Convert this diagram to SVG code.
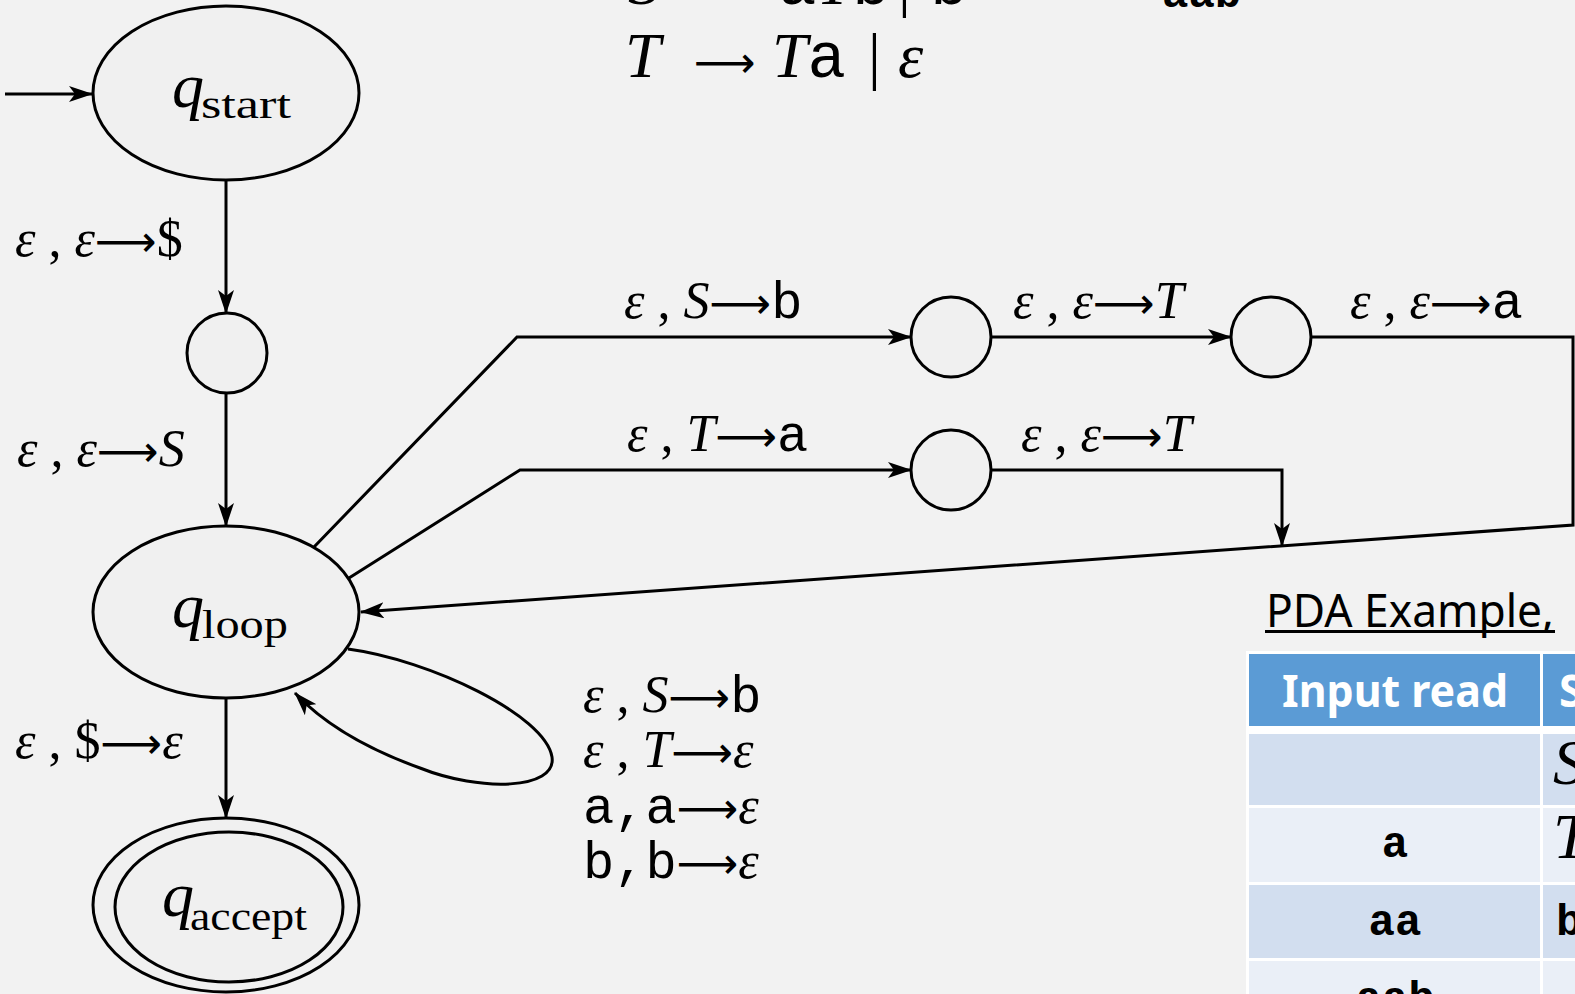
<svg xmlns="http://www.w3.org/2000/svg" width="1575" height="994" viewBox="0 0 1575 994">
<defs>
<style>
.bg{fill:#f2f2f2}
.st{fill:#f0f0f0;stroke:#000;stroke-width:3}
.ed{fill:none;stroke:#000;stroke-width:3}
.lbl{font-family:"Liberation Serif","DejaVu Serif",serif;font-size:52px;fill:#000}
.it{font-style:italic}
.tt{font-family:"Liberation Mono","DejaVu Sans Mono",monospace}
.ar{font-family:"DejaVu Sans",sans-serif;font-size:43px}
.q{font-family:"Liberation Serif",serif;font-style:italic;font-size:64px}
.sub{font-family:"Liberation Serif",serif;font-size:40px}
.gr{font-family:"Liberation Serif",serif;font-size:64px;fill:#000}
.hd{font-family:"Noto Sans","Open Sans",sans-serif;font-weight:bold;font-size:44px;fill:#fff}
.ttb{font-family:"Liberation Mono","DejaVu Sans Mono",monospace;font-weight:bold;font-size:44px;fill:#000}
</style>
<marker id="ah" viewBox="0 0 24 16" refX="23" refY="8" markerWidth="24" markerHeight="16" markerUnits="userSpaceOnUse" orient="auto">
<path d="M0,0 L24,8 L0,16 L6,8 z" fill="#000"/>
</marker>
</defs>
<rect class="bg" x="0" y="0" width="1575" height="994"/>

<g id="grammar">
<text class="gr" x="628" y="4"><tspan class="it">S</tspan><tspan x="694" class="ar" font-size="42">⟶</tspan><tspan x="778" class="tt">a</tspan><tspan class="it">T</tspan><tspan class="tt">b</tspan><tspan x="898">|</tspan><tspan x="930" class="tt">b</tspan></text>
<text class="gr" x="625" y="77"><tspan class="it">T</tspan><tspan x="694" class="ar" font-size="42">⟶</tspan><tspan x="772" class="it">T</tspan><tspan class="tt">a</tspan><tspan x="868">|</tspan><tspan x="898" class="it">ε</tspan></text>
<text class="ttb" x="1162" y="7" font-size="50">aab</text>
</g>

<g id="connectors">
<path class="ed" d="M5,94 L92,94" marker-end="url(#ah)"/>
<path class="ed" d="M226,180 L226,313" marker-end="url(#ah)"/>
<path class="ed" d="M226,393 L226,526" marker-end="url(#ah)"/>
<path class="ed" d="M226,698 L226,818" marker-end="url(#ah)"/>
<path class="ed" d="M314,547 L517,337 L911,337" marker-end="url(#ah)"/>
<path class="ed" d="M991,337 L1231,337" marker-end="url(#ah)"/>
<path class="ed" d="M1311,337 L1573,337 L1573,525 L361,612" marker-end="url(#ah)"/>
<path class="ed" d="M349,578 L520,470 L911,470" marker-end="url(#ah)"/>
<path class="ed" d="M991,470 L1282,470 L1282,546" marker-end="url(#ah)"/>
<path class="ed" d="M348,649 C430,660 545,715 552,757 C557,790 480,792 420,768 C370,750 325,725 295,693" marker-end="url(#ah)"/>
</g>

<g id="edge-labels">
<text class="lbl" x="15" y="256"><tspan class="it">ε</tspan> , <tspan class="it">ε</tspan><tspan class="ar">⟶</tspan>$</text>
<text class="lbl" x="17" y="466"><tspan class="it">ε</tspan> , <tspan class="it">ε</tspan><tspan class="ar">⟶</tspan><tspan class="it">S</tspan></text>
<text class="lbl" x="15" y="758"><tspan class="it">ε</tspan> , $<tspan class="ar">⟶</tspan><tspan class="it">ε</tspan></text>
<text class="lbl" x="624" y="318"><tspan class="it">ε</tspan> , <tspan class="it">S</tspan><tspan class="ar">⟶</tspan><tspan class="tt">b</tspan></text>
<text class="lbl" x="627" y="451"><tspan class="it">ε</tspan> , <tspan class="it">T</tspan><tspan class="ar">⟶</tspan><tspan class="tt">a</tspan></text>
<text class="lbl" x="1013" y="318"><tspan class="it">ε</tspan> , <tspan class="it">ε</tspan><tspan class="ar">⟶</tspan><tspan class="it">T</tspan></text>
<text class="lbl" x="1350" y="318"><tspan class="it">ε</tspan> , <tspan class="it">ε</tspan><tspan class="ar">⟶</tspan><tspan class="tt">a</tspan></text>
<text class="lbl" x="1021" y="451"><tspan class="it">ε</tspan> , <tspan class="it">ε</tspan><tspan class="ar">⟶</tspan><tspan class="it">T</tspan></text>
<text class="lbl" x="583" y="712"><tspan class="it">ε</tspan> , <tspan class="it">S</tspan><tspan class="ar">⟶</tspan><tspan class="tt">b</tspan></text>
<text class="lbl" x="583" y="767"><tspan class="it">ε</tspan> , <tspan class="it">T</tspan><tspan class="ar">⟶</tspan><tspan class="it">ε</tspan></text>
<text class="lbl" x="583" y="823"><tspan class="tt">a,a</tspan><tspan class="ar">⟶</tspan><tspan class="it">ε</tspan></text>
<text class="lbl" x="583" y="878"><tspan class="tt">b,b</tspan><tspan class="ar">⟶</tspan><tspan class="it">ε</tspan></text>
</g>

<g id="q_start">
<ellipse class="st" cx="226" cy="93" rx="133" ry="87"/>
<text x="172" y="107"><tspan class="q">q</tspan><tspan class="sub" x="201" y="118" textLength="90" lengthAdjust="spacingAndGlyphs">start</tspan></text>
</g>
<g id="c0"><circle class="st" cx="227" cy="353" r="40"/></g>
<g id="q_loop">
<ellipse class="st" cx="226" cy="612" rx="133" ry="86"/>
<text x="172" y="627"><tspan class="q">q</tspan><tspan class="sub" x="202" y="638" textLength="86" lengthAdjust="spacingAndGlyphs">loop</tspan></text>
</g>
<g id="q_accept">
<ellipse class="st" cx="226" cy="905" rx="133" ry="87"/>
<ellipse class="st" cx="229" cy="907" rx="114" ry="75"/>
<text x="162" y="916"><tspan class="q">q</tspan><tspan class="sub" x="190" y="930" textLength="117" lengthAdjust="spacingAndGlyphs">accept</tspan></text>
</g>
<g id="c1"><circle class="st" cx="951" cy="337" r="40"/></g>
<g id="c2"><circle class="st" cx="1271" cy="337" r="40"/></g>
<g id="c3"><circle class="st" cx="951" cy="470" r="40"/></g>

<g id="table">
<text x="1266" y="627" font-family="Noto Sans, Open Sans, sans-serif" font-size="46" textLength="288" lengthAdjust="spacingAndGlyphs" fill="#000">PDA Example,</text>
<rect x="1265" y="630" width="290" height="3" fill="#000"/>
<rect x="1246" y="651" width="330" height="345" fill="#ffffff"/>
<rect x="1249" y="654" width="291" height="72" fill="#5b9bd5"/>
<rect x="1543" y="654" width="40" height="72" fill="#5b9bd5"/>
<rect x="1249" y="734" width="291" height="71" fill="#d2deef"/>
<rect x="1543" y="734" width="40" height="71" fill="#d2deef"/>
<rect x="1249" y="808" width="291" height="74" fill="#eaeff7"/>
<rect x="1543" y="808" width="40" height="74" fill="#eaeff7"/>
<rect x="1249" y="885" width="291" height="73" fill="#d2deef"/>
<rect x="1543" y="885" width="40" height="73" fill="#d2deef"/>
<rect x="1249" y="961" width="291" height="40" fill="#eaeff7"/>
<rect x="1543" y="961" width="40" height="40" fill="#eaeff7"/>
<text class="hd" x="1395" y="707" text-anchor="middle" textLength="226" lengthAdjust="spacingAndGlyphs">Input read</text>
<text class="hd" x="1559" y="707">S</text>
<text class="gr it" x="1553" y="784" font-size="56">S</text>
<text class="ttb" x="1395" y="857" text-anchor="middle">a</text>
<text class="gr it" x="1553" y="858" font-size="56">T</text>
<text class="ttb" x="1395" y="935" text-anchor="middle">aa</text>
<text class="ttb" x="1556" y="935">b</text>
<text class="ttb" x="1395" y="1012" text-anchor="middle">aab</text>
</g>
</svg>
